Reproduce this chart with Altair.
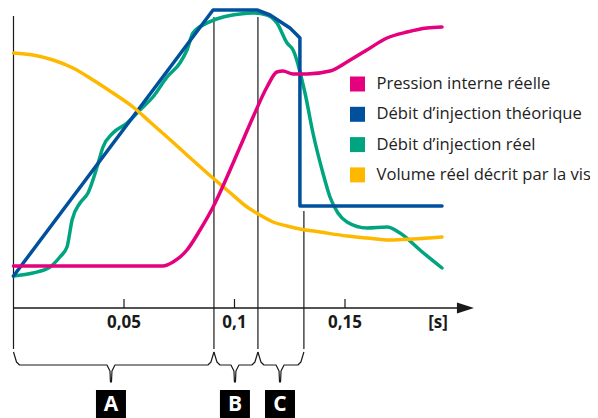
import altair as alt
import pandas as pd

# ---------------- data ----------------
# time in seconds, values in arbitrary units (0 = time axis)
series_names = [
    "Pression interne réelle",
    "Débit d’injection théorique",
    "Débit d’injection réel",
    "Volume réel décrit par la vis",
]
series_colors = ["#E5007D", "#00509E", "#00A57F", "#FFB800"]

t_pression = [0.0, 0.0676, 0.0722, 0.0785, 0.0844, 0.0903, 0.0966, 0.1025, 0.1084,
              0.1147, 0.1192, 0.1219, 0.1265, 0.1328, 0.1432, 0.1509, 0.1599, 0.1690,
              0.1781, 0.1871, 0.1939]
v_pression = [42, 42, 46, 58, 78, 101, 131, 161, 191, 221, 236, 237, 234, 234, 237,
              246, 258, 270, 276, 280, 281]

t_theorique = [0.0, 0.0903, 0.1102, 0.1161, 0.1251, 0.1283, 0.1296, 0.1296, 0.1939]
v_theorique = [32, 298, 298, 293, 280, 273, 270, 102, 102]

t_reel = [0.0, 0.0088, 0.0165, 0.0210, 0.0242, 0.0265, 0.0301, 0.0337, 0.0378, 0.0405,
          0.0450, 0.0514, 0.0572, 0.0631, 0.0695, 0.0753, 0.0785, 0.0812, 0.0876, 0.0934,
          0.1025, 0.1084, 0.1147, 0.1192, 0.1238, 0.1265, 0.1319, 0.1355, 0.1400, 0.1432,
          0.1468, 0.1509, 0.1599, 0.1690, 0.1749, 0.1839, 0.1939]
v_reel = [32, 35, 41, 51, 61, 88, 105, 115, 141, 161, 175, 185, 198, 211, 231, 245, 258,
          275, 285, 290, 294, 295, 293, 285, 265, 258, 215, 175, 135, 111, 95, 86, 80,
          81, 75, 58, 40]

t_volume = [0.0, 0.0088, 0.0179, 0.0269, 0.0360, 0.0450, 0.0541, 0.0618, 0.0695, 0.0785,
            0.0876, 0.0966, 0.1057, 0.1115, 0.1174, 0.1238, 0.1296, 0.1387, 0.1509,
            0.1599, 0.1704, 0.1808, 0.1939]
v_volume = [255, 253, 248, 240, 228, 215, 201, 186, 171, 153, 135, 118, 101, 93, 86, 82,
            79, 76, 72, 70, 68, 69, 71]

# phases
phase_bounds = [0.0, 0.0907, 0.1106, 0.1314]
phase_line_tops = [292, 291, 291, 97]
phase_labels = ["A", "B", "C"]
phase_centers = [0.0441, 0.1002, 0.1206]

# x axis
tick_values = [0.05, 0.1, 0.15]
tick_labels = ["0,05", "0,1", "0,15"]
unit_label = "[s]"
unit_pos = 0.1921
axis_end = 0.2045

# ---------------- layout helpers ----------------
PX = 2210.0            # pixels per second
X_DOM = [-5.5 / PX, 576.5 / PX]
Y_DOM = [-110, 300]
FONT = "Open Sans"
INK = "#1a1a1a"

xs = alt.Scale(domain=X_DOM, nice=False, zero=False)
ys = alt.Scale(domain=Y_DOM, nice=False, zero=False)


def X(f="x"):
    return alt.X(f"{f}:Q", scale=xs, axis=None)


def Y(f="y"):
    return alt.Y(f"{f}:Q", scale=ys, axis=None)


# curves
rows = []
for name, ts, vs in [(series_names[0], t_pression, v_pression),
                     (series_names[1], t_theorique, v_theorique),
                     (series_names[2], t_reel, v_reel),
                     (series_names[3], t_volume, v_volume)]:
    for i, (t, v) in enumerate(zip(ts, vs)):
        rows.append({"serie": name, "x": t, "y": v, "i": i})
curves = pd.DataFrame(rows)

color = alt.Color("serie:N", scale=alt.Scale(domain=series_names, range=series_colors),
                  legend=None)


def curve_layer(name, interp):
    return alt.Chart(curves[curves.serie == name]).mark_line(
        strokeWidth=3.5, interpolate=interp, strokeCap="round", strokeJoin="round"
    ).encode(x=X(), y=Y(), color=color, order="i:Q")


curve_layers = [
    curve_layer(series_names[2], "monotone"),
    curve_layer(series_names[1], "linear"),
    curve_layer(series_names[3], "monotone"),
    curve_layer(series_names[0], "monotone"),
]

# phase lines
pl = pd.DataFrame({"x": phase_bounds, "y": phase_line_tops, "y2": [-41] * 4})
phase_lines = alt.Chart(pl).mark_rule(color=INK, strokeWidth=1.2).encode(
    x=X(), y=Y(), y2="y2:Q")

# braces
brows = []
for k, lab in enumerate(phase_labels):
    a, b, c = phase_bounds[k], phase_bounds[k + 1], phase_centers[k]
    pts = [(a, -44), (a + 3 / PX, -54), (a + 6 / PX, -57), (c - 4 / PX, -57),
           (c - 1 / PX, -63), (c - 0.5 / PX, -74), (c + 0.5 / PX, -74), (c + 1 / PX, -63),
           (c + 4 / PX, -57), (b - 6 / PX, -57), (b - 3 / PX, -54), (b, -44)]
    for i, (x, y) in enumerate(pts):
        brows.append({"phase": lab, "x": x, "y": y, "i": i})
braces = alt.Chart(pd.DataFrame(brows)).mark_line(
    color=INK, strokeWidth=1.2, strokeJoin="round").encode(
    x=X(), y=Y(), detail="phase:N", order="i:Q")

# label boxes
half = 15 / PX
boxes_df = pd.DataFrame({"label": phase_labels, "c": phase_centers,
                         "x": [c - half for c in phase_centers],
                         "x2": [c + half for c in phase_centers],
                         "y": [-82] * 3, "y2": [-110] * 3, "ty": [-97] * 3})
boxes = alt.Chart(boxes_df).mark_rect(color="#000000").encode(
    x=X(), x2="x2:Q", y=Y(), y2="y2:Q")
box_text = alt.Chart(boxes_df).mark_text(
    color="white", font=FONT, fontWeight="bold", fontSize=21, baseline="middle"
).encode(x=X("c"), y=Y("ty"), text="label:N")

# x axis with arrow
axis_df = pd.DataFrame({"x": [0.0], "x2": [axis_end - 4 / PX], "y": [0]})
axis_line = alt.Chart(axis_df).mark_rule(color=INK, strokeWidth=1.5).encode(
    x=X(), x2="x2:Q", y=Y())
arrow = alt.Chart(pd.DataFrame({"x": [axis_end], "y": [0]})).mark_point(
    shape="M-1,-0.65L1,0L-1,0.65Z", filled=True, size=289, color=INK, opacity=1
).encode(x=X(), y=Y())
ticks_df = pd.DataFrame({"x": tick_values, "y": [9] * 3, "y2": [0] * 3,
                         "label": tick_labels, "ty": [-15] * 3})
ticks = alt.Chart(ticks_df).mark_rule(color=INK, strokeWidth=1.2).encode(
    x=X(), y=Y(), y2="y2:Q")
tick_text = alt.Chart(ticks_df).mark_text(
    font=FONT, fontWeight="bold", fontSize=17, color=INK, baseline="middle"
).encode(x=X(), y=Y("ty"), text="label:N")
unit_text = alt.Chart(pd.DataFrame({"x": [unit_pos], "y": [-15], "t": [unit_label]})).mark_text(
    font=FONT, fontWeight="bold", fontSize=17, color=INK, baseline="middle"
).encode(x=X(), y=Y(), text="t:N")

# legend
leg_x_sym = 344 / PX
leg_x_txt = 363 / PX
leg_y0, leg_step = 224, 30.3
leg_df = pd.DataFrame({"serie": series_names,
                       "xs": [leg_x_sym] * 4, "xt": [leg_x_txt] * 4,
                       "y": [leg_y0 - k * leg_step for k in range(4)]})
leg_sym = alt.Chart(leg_df).mark_square(size=225, opacity=1).encode(
    x=X("xs"), y=Y(), color=color)
leg_txt = alt.Chart(leg_df).mark_text(
    align="left", baseline="middle", font=FONT, fontSize=16.6, color="#222222"
).encode(x=X("xt"), y=Y(), text="serie:N")

chart = alt.layer(
    phase_lines, braces, boxes, box_text, axis_line, arrow, ticks, tick_text, unit_text,
    *curve_layers, leg_sym, leg_txt
).properties(
    width=582, height=410, padding=0, autosize=alt.AutoSizeParams(type="none")
).configure_view(stroke=None)

chart.save("out.html", embed_options={"renderer": "svg", "actions": False})
